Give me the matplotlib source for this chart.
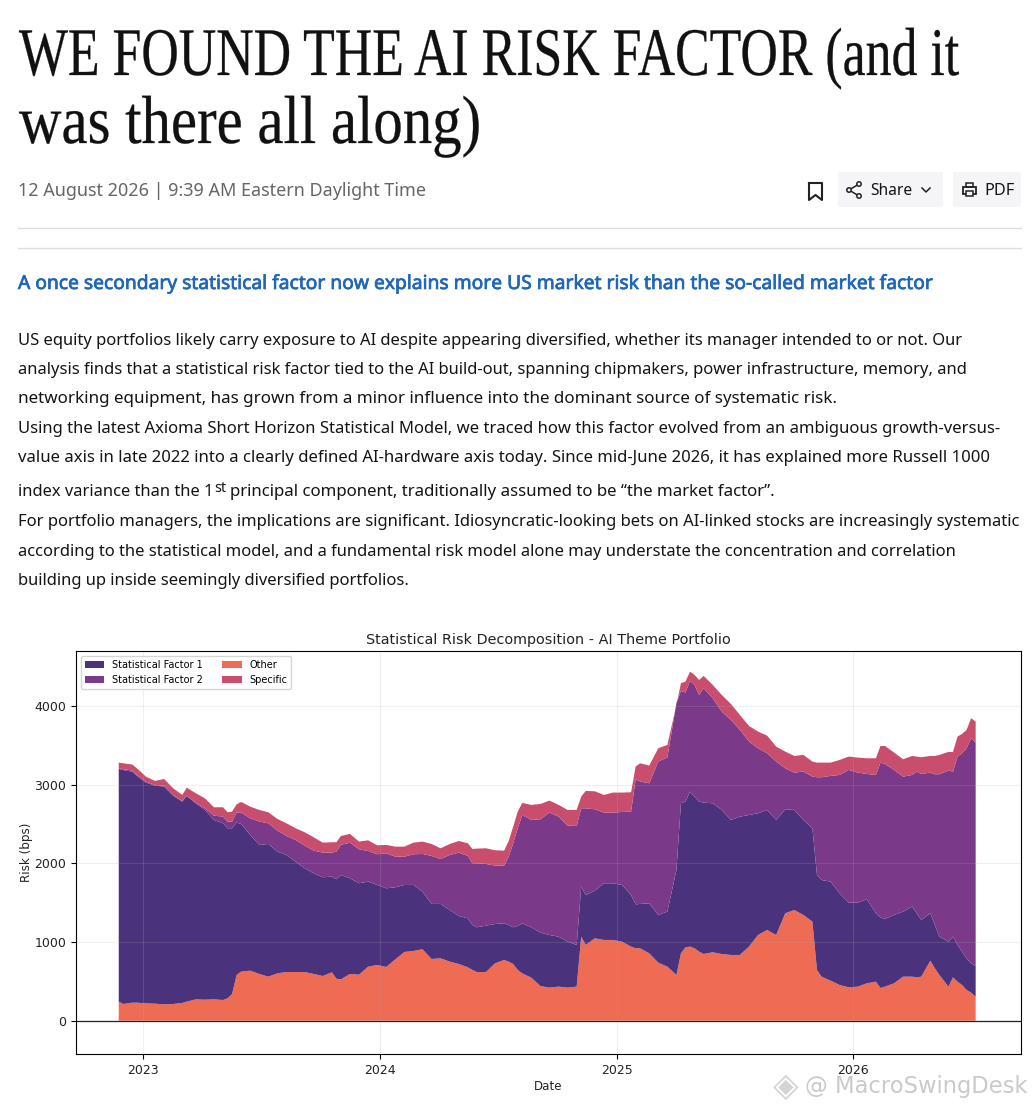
"""Article screenshot with the AI theme portfolio risk decomposition chart."""

import matplotlib
matplotlib.use("Agg")
import matplotlib.dates as mdates
import matplotlib.patheffects as pe
import matplotlib.pyplot as plt
import numpy as np
import pandas as pd
from matplotlib.patches import Circle, FancyBboxPatch, Rectangle
from matplotlib.transforms import Affine2D

# weeks since the first date in the series
weeks = [0, 1, 2, 3, 4, 6, 8, 10, 12, 14, 15, 17, 19, 21, 23, 24, 25, 26, 27, 29,
         31, 33, 35, 37, 39, 41, 43, 45, 47, 48, 49, 51, 53, 55, 57, 59, 61, 63, 65, 67,
         69, 71, 73, 75, 77, 78, 79, 81, 83, 85, 86, 87, 88,
         89, 91, 93, 95, 97, 99, 101, 102, 103, 105, 107, 109, 111, 113, 114, 115, 117,
         119, 121, 123, 124, 125, 126, 127, 128, 129, 131, 133, 135, 137, 139, 141, 143,
         145, 147, 149, 151, 153, 154, 155, 157, 159, 161, 163, 165, 167, 168, 169, 171,
         173, 175, 176, 177, 179, 180, 181, 183, 184, 185, 186, 187, 188, 189]

# stack levels, in bps
other_top = [242, 212, 220, 229, 229, 220, 216, 208, 212, 225, 242, 271, 267, 271, 263, 284, 339, 581, 624, 636,
             594, 560, 602, 619, 619, 619, 594, 568, 615, 534, 526, 594, 585, 687, 708, 683, 780, 874, 887, 908,
             785, 793, 751, 721, 679, 645, 619, 619, 730, 772, 751, 721, 645,
             602, 547, 441, 420, 433, 420, 433, 1069, 963, 1048, 1027, 1027, 1005, 942, 921, 921, 857,
             738, 687, 581, 857, 933, 942, 921, 878, 848, 870, 848, 836, 836, 942, 1090, 1154,
             1090, 1366, 1408, 1345, 1260, 645, 560, 509, 454, 424, 433, 475, 496, 416, 433, 475,
             560, 560, 551, 560, 763, 666, 581, 433, 551, 496, 454, 390, 356, 305]
factor1_top = [3203, 3190, 3177, 3169, 3114, 3029, 2991, 2978, 2863, 2787, 2859, 2766, 2681, 2554, 2511, 2448, 2448, 2520, 2503, 2363,
               2236, 2248, 2151, 2108, 2023, 1939, 1875, 1824, 1833, 1799, 1854, 1811, 1748, 1769, 1727, 1684, 1697, 1727, 1727, 1642,
               1485, 1485, 1408, 1332, 1302, 1217, 1188, 1209, 1230, 1239, 1217, 1188, 1205,
               1239, 1188, 1120, 1090, 1069, 1005, 963, 1705, 1599, 1654, 1748, 1748, 1727, 1599, 1480, 1485, 1493,
               1345, 1387, 1917, 2766, 2787, 2914, 2851, 2787, 2774, 2766, 2681, 2554, 2596, 2617, 2639, 2681,
               2554, 2689, 2681, 2554, 2448, 1854, 1790, 1769, 1620, 1502, 1502, 1544, 1366, 1311, 1294, 1345,
               1387, 1451, 1366, 1281, 1366, 1217, 1069, 1005, 1069, 963, 878, 793, 730, 696]
factor2_top = [3211, 3198, 3190, 3182, 3126, 3042, 2999, 2991, 2872, 2795, 2863, 2774, 2702, 2609, 2596, 2533, 2533, 2651, 2647, 2575,
               2533, 2511, 2418, 2350, 2299, 2227, 2163, 2138, 2138, 2151, 2236, 2265, 2180, 2159, 2117, 2129, 2087, 2087, 2117, 2121,
               2096, 2057, 2108, 2138, 2096, 2002, 2002, 1994, 1973, 1973, 2087, 2257, 2448,
               2617, 2554, 2562, 2647, 2596, 2482, 2477, 2702, 2702, 2689, 2647, 2647, 2655, 2660, 3071, 3042, 3020,
               3296, 3351, 4038, 4195, 4174, 4323, 4272, 4144, 4229, 4102, 3932, 3826, 3699, 3551, 3466, 3402,
               3296, 3211, 3156, 3169, 3105, 3097, 3097, 3114, 3126, 3190, 3156, 3139, 3126, 3283, 3266, 3190,
               3105, 3126, 3169, 3139, 3156, 3135, 3135, 3182, 3169, 3360, 3402, 3466, 3593, 3538]
specific_top = [3283, 3275, 3266, 3258, 3211, 3105, 3050, 3075, 2957, 2872, 2965, 2893, 2829, 2715, 2715, 2651, 2660, 2753, 2783, 2723,
                2681, 2651, 2566, 2511, 2448, 2397, 2333, 2265, 2270, 2270, 2350, 2376, 2278, 2295, 2231, 2236, 2214, 2214, 2265, 2278,
                2248, 2193, 2248, 2286, 2257, 2185, 2189, 2193, 2168, 2163, 2286, 2469, 2660,
                2770, 2745, 2757, 2800, 2745, 2681, 2681, 2851, 2923, 2918, 2872, 2902, 2902, 2906, 3232, 3275, 3245,
                3466, 3508, 4017, 4293, 4314, 4441, 4399, 4335, 4386, 4272, 4144, 4030, 3890, 3750, 3678, 3627,
                3487, 3423, 3368, 3381, 3296, 3283, 3283, 3283, 3317, 3360, 3347, 3338, 3338, 3495, 3495, 3411,
                3326, 3368, 3360, 3351, 3368, 3368, 3381, 3419, 3419, 3614, 3648, 3699, 3848, 3805]

series_labels = ["Other", "Statistical Factor 1", "Statistical Factor 2", "Specific"]
series_colors = ["#EE6B54", "#4A337C", "#7A3989", "#C94D6D"]
y_ticks = [0, 1000, 2000, 3000, 4000]

W, H = 1035, 1110
CHART = "DejaVu Sans"
BODY = "Noto Sans"
TITLE = "Liberation Serif"


class Stretch(pe.AbstractPathEffect):
    """Make a text taller around its baseline, with a thin outline."""

    def __init__(self, y0, sy, color):
        super().__init__()
        self.y0, self.sy, self.color = y0, sy, color

    def draw_path(self, renderer, gc, tpath, affine, rgbFace=None):
        stretch = Affine2D().translate(0, -self.y0).scale(1, self.sy).translate(0, self.y0)
        gc.set_linewidth(0.2)
        gc.set_foreground(self.color)
        renderer.draw_path(gc, tpath, affine + stretch, rgbFace)


fig = plt.figure(figsize=(W / 100, H / 100), dpi=100, facecolor="white")

# page overlay in pixel coordinates for the article around the chart
page = fig.add_axes([0, 0, 1, 1])
page.set_xlim(0, W)
page.set_ylim(H, 0)
page.axis("off")
renderer = fig.canvas.get_renderer()


def fit_text(x, y, s, x_end, family=BODY, color="#141414", bold=False, va="center"):
    """Put one line of text at x and size it so it ends at x_end."""
    t = page.text(x, y, s, family=family, color=color, fontsize=12, va=va, ha="left")
    width = t.get_window_extent(renderer).width
    t.set_fontsize(12 * (x_end - x) / width)
    if bold:
        t.set_path_effects([pe.withStroke(linewidth=0.5, foreground=color)])
    return t


# headline, real text made taller to get the condensed look of the original
headline = [("WE FOUND THE AI RISK FACTOR (and it", 75, 955), ("was there all along)", 143, 480)]
for s, y, x_end in headline:
    t = fit_text(19, y, s, x_end, family=TITLE, color="#111111", va="baseline")
    t.set_path_effects([Stretch(H - y, 49 / t.get_fontsize(), "#111111")])

fit_text(18, 191, "12 August 2026 | 9:39 AM Eastern Daylight Time", 427, color="#666666")

# toolbar
for x0, x1 in [(838, 943), (953, 1021)]:
    page.add_patch(FancyBboxPatch((x0 + 2, 174), x1 - x0 - 4, 31, boxstyle="round,pad=2",
                                  fc="#F5F5F7", ec="none"))
page.plot([809, 809, 815.5, 822, 822, 809], [183, 200, 195, 200, 183, 183], color="#222222", lw=1.5)
page.plot([859, 849, 859], [184, 190, 196], color="#222222", lw=1.1)
for cx, cy in [(859, 184), (849, 190), (859, 196)]:
    page.add_patch(Circle((cx, cy), 2.2, fc="#F5F5F7", ec="#222222", lw=1.1, zorder=3))
fit_text(870, 191, "Share", 912)
page.plot([922, 926, 930], [188, 192, 188], color="#222222", lw=1.1)
page.add_patch(Rectangle((963, 187), 13, 7, fc="none", ec="#222222", lw=1.3))
page.add_patch(Rectangle((966, 183), 7, 4, fc="none", ec="#222222", lw=1.1))
page.add_patch(Rectangle((966, 191), 7, 5, fc="#F5F5F7", ec="#222222", lw=1.1))
fit_text(984, 191, "PDF", 1014)

page.plot([18, 1021], [228, 228], color="#DDDDDD", lw=1)
page.plot([18, 1021], [248, 248], color="#DDDDDD", lw=1)

fit_text(18, 284, "A once secondary statistical factor now explains more US market risk than the so-called market factor",
         931, color="#1F66B8", bold=True)

body_lines = [
    (341, "US equity portfolios likely carry exposure to AI despite appearing diversified, whether its manager intended to or not. Our", 963),
    (370, "analysis finds that a statistical risk factor tied to the AI build-out, spanning chipmakers, power infrastructure, memory, and", 969),
    (399, "networking equipment, has grown from a minor influence into the dominant source of systematic risk.", 835),
    (429, "Using the latest Axioma Short Horizon Statistical Model, we traced how this factor evolved from an ambiguous growth-versus-", 999),
    (458, "value axis in late 2022 into a clearly defined AI-hardware axis today. Since mid-June 2026, it has explained more Russell 1000", 990),
    (522, "For portfolio managers, the implications are significant. Idiosyncratic-looking bets on AI-linked stocks are increasingly systematic", 1020),
    (552, "according to the statistical model, and a fundamental risk model alone may understate the concentration and correlation", 957),
    (581, "building up inside seemingly diversified portfolios.", 408),
]
for y, s, x_end in body_lines:
    fit_text(18, y, s, x_end)

fit_text(18, 492, "index variance than the 1", 213)
fit_text(214, 488, "st", 226)
fit_text(230, 492, "principal component, traditionally assumed to be \u201cthe market factor\u201d.", 775)

# chart
dates = pd.Timestamp("2022-11-24") + pd.to_timedelta(np.array(weeks) * 7, unit="D")
levels = np.vstack([np.zeros(len(weeks)), other_top, factor1_top, factor2_top, specific_top])
layers = np.diff(levels, axis=0)

ax = fig.add_axes([76 / W, 1 - 1054 / H, 945 / W, 403 / H])
polys = ax.stackplot(dates, layers, labels=series_labels, colors=series_colors, lw=0)
ax.axhline(0, color="#222222", lw=0.9)
ax.set_xlim(pd.Timestamp("2022-09-19"), pd.Timestamp("2026-09-17"))
ax.set_ylim(-424, 4703)
ax.set_yticks(y_ticks)
ax.xaxis.set_major_locator(mdates.YearLocator())
ax.xaxis.set_major_formatter(mdates.DateFormatter("%Y"))
ax.tick_params(labelsize=9, labelcolor="#222222")
for lab in ax.get_xticklabels() + ax.get_yticklabels():
    lab.set_family(CHART)
ax.grid(alpha=0.2, color="#b0b0b0", lw=0.8)
ax.set_title("Statistical Risk Decomposition - AI Theme Portfolio", fontsize=10.4, family=CHART, pad=5,
             color="#222222")
ax.set_xlabel("Date", fontsize=8.6, family=CHART, labelpad=2, color="#222222")
ax.set_ylabel("Risk (bps)", fontsize=8.6, family=CHART, labelpad=1, color="#222222")

order = [1, 2, 0, 3]
ax.legend([polys[i] for i in order], [series_labels[i] for i in order], loc="upper left",
          ncol=2, prop={"family": CHART, "size": 7})

# watermark
page.set_zorder(3)
page.text(786, 1086, "\u25c8", family="DejaVu Sans", fontsize=24, color="#D4D4D4", va="center", ha="center")
fit_text(805, 1086, "@ MacroSwingDesk", 1027, family="DejaVu Sans", color="#CACACA")

fig.savefig("out.png", dpi=100)
